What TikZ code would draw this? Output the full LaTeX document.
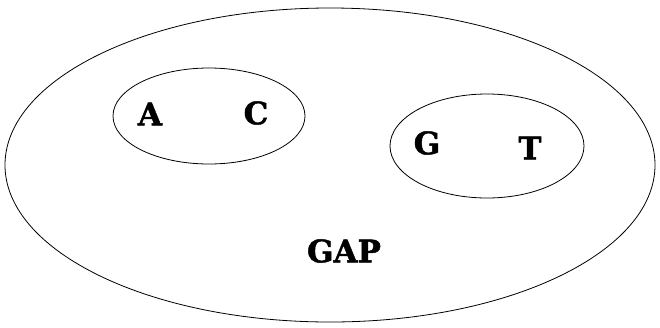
\documentclass[tikz,border=0pt]{standalone}
\usepackage{fontspec}
\newfontfamily\letterfont{DejaVu Serif}[BoldFeatures={FakeBold=1.5}]
\usetikzlibrary{shapes.geometric}
\begin{document}
\begin{tikzpicture}[x=1pt,y=-1pt,
  setline/.style={draw=black, line width=0.8pt},
  base/.style={font=\letterfont\bfseries\fontsize{31}{31}\selectfont, inner sep=0pt}]
\useasboundingbox (0,0) rectangle (660,327);
\draw[setline] (330,165) ellipse [x radius=325, y radius=157];
\draw[setline] (209,116) ellipse [x radius=96, y radius=48];
\draw[setline] (487,146) ellipse [x radius=97, y radius=52];
\node[base] (A) at (150,114) {A};
\node[base] (C) at (256,113) {C};
\node[base] (G) at (427,143) {G};
\node[base] (T) at (530,148) {T};
\node[base] (gap) at (344,251) {GAP};
\end{tikzpicture}
\end{document}
